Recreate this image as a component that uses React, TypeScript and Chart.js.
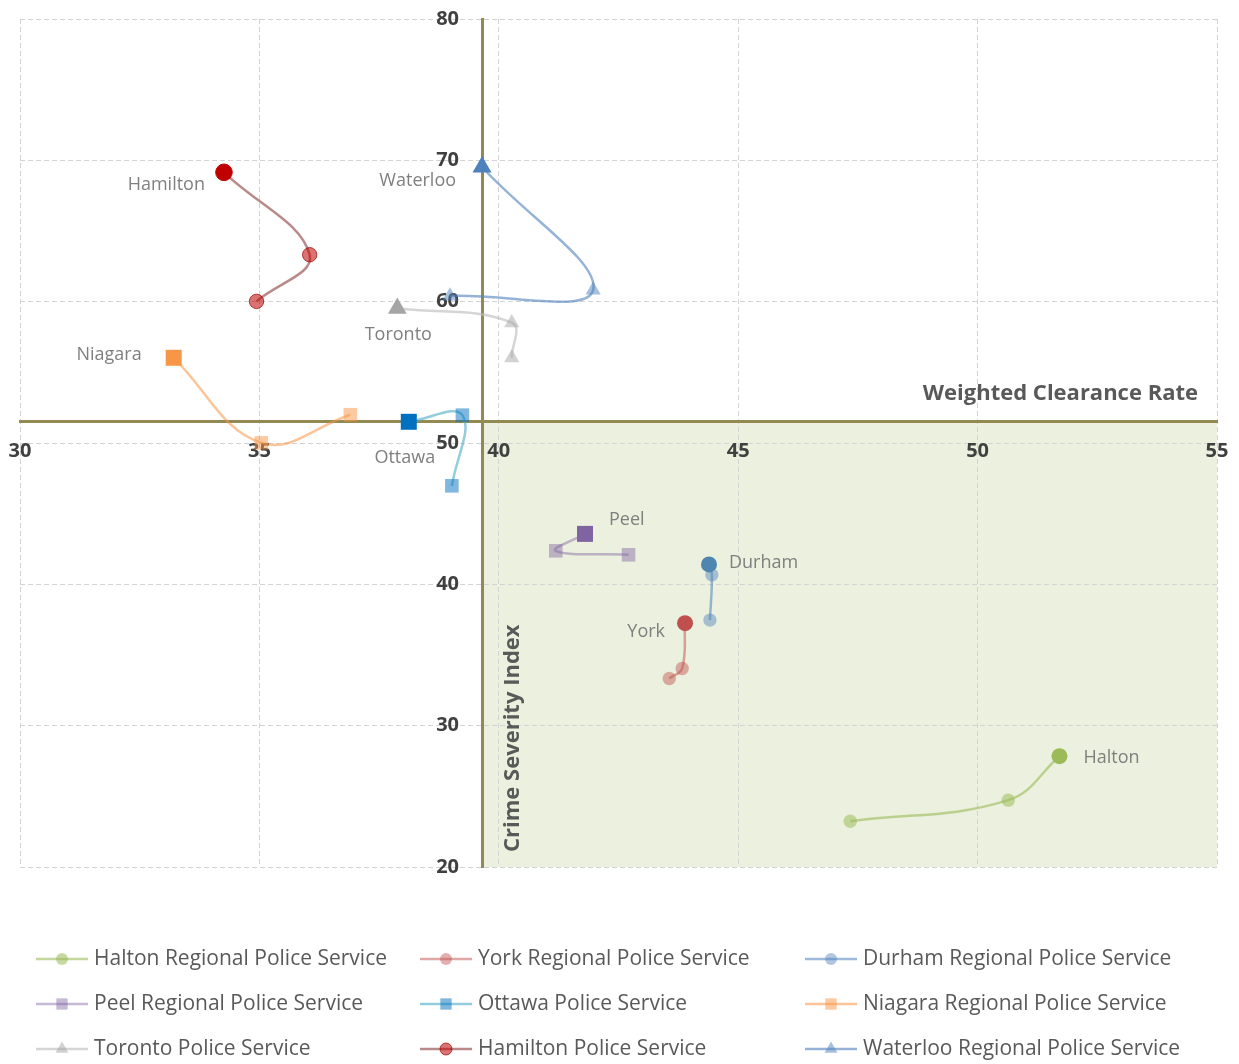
import React, { useEffect, useRef } from "react";
import { Chart, registerables } from "chart.js";

Chart.register(...registerables);

const FONT = "'Open Sans', Lato, sans-serif";

// ---------- data ----------
const seriesNames = [
  "Halton Regional Police Service",
  "York Regional Police Service",
  "Durham Regional Police Service",
  "Peel Regional Police Service",
  "Ottawa Police Service",
  "Niagara Regional Police Service",
  "Toronto Police Service",
  "Hamilton Police Service",
  "Waterloo Regional Police Service",
];
const shortNames = ["Halton", "York", "Durham", "Peel", "Ottawa", "Niagara", "Toronto", "Hamilton", "Waterloo"];

// Weighted Clearance Rate (x) and Crime Severity Index (y); last point = latest
const haltonX = [47.34, 50.64, 51.71];
const haltonY = [23.24, 24.73, 27.84];
const yorkX = [43.56, 43.83, 43.89];
const yorkY = [33.34, 34.05, 37.25];
const durhamX = [44.41, 44.45, 44.39];
const durhamY = [37.47, 40.67, 41.41];
const peelX = [42.71, 41.19, 41.8];
const peelY = [42.09, 42.37, 43.57];
const ottawaX = [39.02, 39.24, 38.12];
const ottawaY = [46.97, 51.97, 51.5];
const niagaraX = [36.9, 35.04, 33.21];
const niagaraY = [52.0, 50.01, 56.03];
const torontoX = [40.27, 40.27, 37.88];
const torontoY = [56.03, 58.51, 59.53];
const hamiltonX = [34.94, 36.05, 34.26];
const hamiltonY = [60.02, 63.32, 69.15];
const waterlooX = [38.98, 41.97, 39.65];
const waterlooY = [60.4, 60.82, 69.53];

const seriesX = [haltonX, yorkX, durhamX, peelX, ottawaX, niagaraX, torontoX, hamiltonX, waterlooX];
const seriesY = [haltonY, yorkY, durhamY, peelY, ottawaY, niagaraY, torontoY, hamiltonY, waterlooY];

const xMin = 30;
const xMax = 55;
const xStep = 5;
const yMin = 20;
const yMax = 80;
const yStep = 10;
const crossX = 39.65; // vertical axis crosses here
const crossY = 51.5; // horizontal axis crosses here
const yLabelsAtX = 39.17; // where the value labels of the vertical axis end

const xTitle = "Weighted Clearance Rate";
const yTitle = "Crime Severity Index";

// ---------- styles ----------
type Style = {
  marker: "circle" | "rect" | "triangle";
  line: string;
  point: string;
  last: string;
  r: number;
  rLast: number;
  border?: string;
};
const styles: Style[] = [
  { marker: "circle", line: "rgba(155,187,89,0.6)", point: "rgba(155,187,89,0.55)", last: "#9bbb59", r: 6.7, rLast: 8 },
  { marker: "circle", line: "rgba(192,80,77,0.5)", point: "rgba(192,80,77,0.45)", last: "#c0504d", r: 6.7, rLast: 8 },
  { marker: "circle", line: "rgba(79,129,189,0.55)", point: "rgba(79,129,189,0.45)", last: "#4f86b0", r: 6.7, rLast: 8 },
  { marker: "rect", line: "rgba(128,100,162,0.45)", point: "rgba(128,100,162,0.45)", last: "#8064a2", r: 9.6, rLast: 11.3 },
  { marker: "rect", line: "rgba(75,172,198,0.6)", point: "rgba(0,112,192,0.5)", last: "#0070c0", r: 9.6, rLast: 11.3 },
  { marker: "rect", line: "rgba(247,150,70,0.55)", point: "rgba(247,150,70,0.5)", last: "#f79646", r: 9.6, rLast: 11.3 },
  { marker: "triangle", line: "rgba(191,191,191,0.65)", point: "rgba(165,165,165,0.5)", last: "#a5a5a5", r: 8.8, rLast: 10.8 },
  { marker: "circle", line: "rgba(140,60,60,0.6)", point: "rgba(192,0,0,0.55)", last: "#c00000", r: 7.2, rLast: 8.3, border: "rgba(150,0,0,0.7)" },
  { marker: "triangle", line: "rgba(79,129,189,0.6)", point: "rgba(79,129,189,0.5)", last: "#4f81bd", r: 8.8, rLast: 11 },
];

// label placement relative to the latest point: dx, dy, align
const labelPlacement: [number, number, CanvasTextAlign][] = [
  [24, 2, "left"],
  [-20, 9, "right"],
  [20, -2, "left"],
  [24, -14, "left"],
  [-4, 36, "center"],
  [-32, -3, "right"],
  [1, 27, "center"],
  [-19, 13, "right"],
  [-26, 14, "right"],
];

const legendOrder = [0, 1, 2, 3, 4, 5, 6, 7, 8];

function drawMarker(ctx: CanvasRenderingContext2D, kind: string, x: number, y: number, r: number) {
  ctx.beginPath();
  if (kind === "circle") {
    ctx.arc(x, y, r, 0, Math.PI * 2);
  } else if (kind === "rect") {
    const s = Math.SQRT1_2 * r;
    ctx.rect(x - s, y - s, 2 * s, 2 * s);
  } else {
    let rad = 0;
    for (let k = 0; k < 3; k++) {
      const px = x + Math.sin(rad) * r;
      const py = y - Math.cos(rad) * r;
      if (k === 0) ctx.moveTo(px, py);
      else ctx.lineTo(px, py);
      rad += (2 * Math.PI) / 3;
    }
    ctx.closePath();
  }
}

const noPad = (scale: any) => {
  scale.paddingLeft = 0;
  scale.paddingRight = 0;
  scale.paddingTop = 0;
  scale.paddingBottom = 0;
};

const quadrantPlugin = {
  id: "quadrant",
  beforeDraw(chart: any) {
    const { ctx, chartArea, scales } = chart;
    const x0 = scales.x.getPixelForValue(crossX);
    const y0 = scales.y.getPixelForValue(crossY);
    ctx.save();
    ctx.fillStyle = "#ebf1de";
    ctx.fillRect(x0, y0, chartArea.right - x0, chartArea.bottom - y0);
    ctx.restore();
  },
};

const decorPlugin = {
  id: "decor",
  afterDraw(chart: any) {
    const { ctx, chartArea, scales } = chart;
    ctx.save();
    // point labels
    ctx.font = `18px ${FONT}`;
    ctx.fillStyle = "#7f7f7f";
    ctx.textBaseline = "middle";
    seriesX.forEach((_, i) => {
      const meta = chart.getDatasetMeta(i);
      const pt = meta.data[meta.data.length - 1];
      const [dx, dy, align] = labelPlacement[i];
      ctx.textAlign = align;
      ctx.fillText(shortNames[i], pt.x + dx, pt.y + dy);
    });
    // axis titles
    const y0 = scales.y.getPixelForValue(crossY);
    const x0 = scales.x.getPixelForValue(crossX);
    ctx.font = `bold 22px ${FONT}`;
    ctx.fillStyle = "#595959";
    ctx.textAlign = "right";
    ctx.fillText(xTitle, chartArea.right - 19, y0 - 28);
    ctx.save();
    ctx.translate(x0 + 31, chartArea.bottom - 15);
    ctx.rotate(-Math.PI / 2);
    ctx.textAlign = "left";
    ctx.font = `bold 22px ${FONT}`;
    ctx.fillText(yTitle, 0, 0);
    ctx.restore();
    // legend
    const colX = [36, 420, 805];
    const rowY = [959, 1004, 1049];
    ctx.font = `21px ${FONT}`;
    ctx.textAlign = "left";
    legendOrder.forEach((si, k) => {
      const cx = colX[k % 3];
      const cy = rowY[Math.floor(k / 3)];
      const st = styles[si];
      ctx.strokeStyle = st.line;
      ctx.lineWidth = 2.5;
      ctx.beginPath();
      ctx.moveTo(cx, cy);
      ctx.lineTo(cx + 52, cy);
      ctx.stroke();
      ctx.fillStyle = st.point;
      drawMarker(ctx, st.marker, cx + 26, cy, st.marker === "triangle" ? 7.5 : st.marker === "rect" ? 8 : 6);
      ctx.fill();
      if (st.border) {
        ctx.strokeStyle = st.border;
        ctx.lineWidth = 1;
        ctx.stroke();
      }
      ctx.fillStyle = "#595959";
      ctx.fillText(seriesNames[si], cx + 58, cy);
    });
    ctx.restore();
  },
};

export default function App() {
  const ref = useRef<HTMLCanvasElement | null>(null);
  useEffect(() => {
    if (!ref.current) return;
    const datasets = seriesX.map((xs, i) => {
      const st = styles[i];
      const n = xs.length;
      return {
        label: seriesNames[i],
        data: xs.map((x, j) => ({ x, y: seriesY[i][j] })),
        showLine: true,
        borderColor: st.line,
        borderWidth: 2.5,
        tension: 0.4,
        pointStyle: st.marker,
        pointRadius: xs.map((_, j) => (j === n - 1 ? st.rLast : st.r)),
        pointHoverRadius: xs.map((_, j) => (j === n - 1 ? st.rLast : st.r)),
        pointBackgroundColor: xs.map((_, j) => (j === n - 1 ? st.last : st.point)),
        pointBorderColor: xs.map((_, j) => (st.border ? (j === n - 1 ? st.last : st.border) : "rgba(0,0,0,0)")),
        pointBorderWidth: st.border ? 1 : 0,
        clip: false as any,
      };
    });
    const tickFont = { family: FONT, size: 20, weight: "bold" as const };
    const chart = new Chart(ref.current, {
      type: "scatter",
      data: { datasets },
      options: {
        animation: false,
        responsive: false,
        devicePixelRatio: 1,
        layout: { padding: { left: 20, right: 22, top: 19, bottom: 197 } },
        plugins: { legend: { display: false }, tooltip: { enabled: false } },
        scales: {
          x: {
            type: "linear",
            min: xMin,
            max: xMax,
            position: { y: crossY } as any,
            afterFit: noPad,
            ticks: { stepSize: xStep, padding: 17, color: "#404040", font: tickFont },
            grid: { color: "#d3d3d3", lineWidth: 1, drawTicks: false },
            border: { display: true, color: "#938953", width: 3, dash: [5, 3] },
          },
          y: {
            type: "linear",
            min: yMin,
            max: yMax,
            position: { x: crossX } as any,
            afterFit: noPad,
            ticks: { display: false, stepSize: yStep },
            grid: { color: "#d3d3d3", lineWidth: 1, drawTicks: false },
            border: { display: true, color: "#938953", width: 3, dash: [5, 3] },
          },
          yLabels: {
            type: "linear",
            axis: "y",
            min: yMin,
            max: yMax,
            position: { x: yLabelsAtX } as any,
            afterFit: noPad,
            ticks: { stepSize: yStep, padding: 0, color: "#404040", font: tickFont },
            grid: { display: false, drawTicks: false },
            border: { display: false },
          },
        },
      },
      plugins: [quadrantPlugin, decorPlugin],
    });
    return () => chart.destroy();
  }, []);
  return (
    <div style={{ position: "absolute", left: 0, top: 0, width: 1239, height: 1064, background: "#fff" }}>
      <canvas ref={ref} width={1239} height={1064} style={{ display: "block" }} />
    </div>
  );
}
